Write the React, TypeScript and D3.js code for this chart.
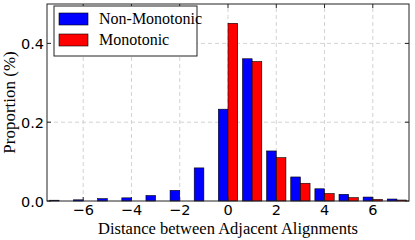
import * as d3 from 'd3';
import { useRef, useEffect } from 'react';

const distances = [-7, -6, -5, -4, -3, -2, -1, 0, 1, 2, 3, 4, 5, 6, 7];
const nonMonotonic = [0.002, 0.003, 0.006, 0.008, 0.014, 0.027, 0.084, 0.233, 0.361, 0.127, 0.061, 0.031, 0.017, 0.01, 0.005];
const monotonic = [0, 0, 0, 0, 0, 0, 0, 0.451, 0.354, 0.11, 0.045, 0.019, 0.0085, 0.004, 0.0025];
const xTicks = [-6, -4, -2, 0, 2, 4, 6];
const yTicks = [0.0, 0.2, 0.4];
const seriesNames = ['Non-Monotonic', 'Monotonic'];
const seriesColors = ['#0000ff', '#ff0000'];

export default function App() {
  const svgRef = useRef(null);

  useEffect(() => {
    const width = 415;
    const height = 240;
    const m = { left: 47, right: 6, top: 4, bottom: 39 };
    const barW = 0.4;

    const svg = d3.select(svgRef.current).attr('width', width).attr('height', height);
    svg.selectAll('*').remove();

    const x = d3.scaleLinear().domain([-7.5, 7.5]).range([m.left, width - m.right]);
    const y = d3.scaleLinear().domain([0, 0.5]).range([height - m.bottom, m.top]);
    const [x0, x1] = x.range();
    const [y0, y1] = y.range();

    // grid
    const grid = svg.append('g').attr('stroke', '#c8c8c8').attr('stroke-dasharray', '4,3').attr('stroke-width', 0.8);
    grid.selectAll('line.gx').data(xTicks).enter().append('line')
      .attr('x1', (d) => x(d)).attr('x2', (d) => x(d)).attr('y1', y0).attr('y2', y1);
    grid.selectAll('line.gy').data(yTicks.filter((d) => d > 0)).enter().append('line')
      .attr('x1', x0).attr('x2', x1).attr('y1', (d) => y(d)).attr('y2', (d) => y(d));

    // bars
    const bars = svg.append('g').attr('stroke', '#000').attr('stroke-width', 0.6);
    bars.selectAll('rect.nm').data(distances).enter().append('rect')
      .attr('x', (d) => x(d - barW)).attr('width', x(barW) - x(0))
      .attr('y', (d, i) => y(nonMonotonic[i])).attr('height', (d, i) => y(0) - y(nonMonotonic[i]))
      .attr('fill', seriesColors[0]);
    bars.selectAll('rect.mo').data(distances.filter((d, i) => monotonic[i] > 0)).enter().append('rect')
      .attr('x', (d) => x(d)).attr('width', x(barW) - x(0))
      .attr('y', (d) => y(monotonic[distances.indexOf(d)]))
      .attr('height', (d) => y(0) - y(monotonic[distances.indexOf(d)]))
      .attr('fill', seriesColors[1]);

    // frame
    svg.append('rect').attr('x', x0).attr('y', y1).attr('width', x1 - x0).attr('height', y0 - y1)
      .attr('fill', 'none').attr('stroke', '#222').attr('stroke-width', 1);

    // ticks (inside, both sides)
    const tk = svg.append('g').attr('stroke', '#222').attr('stroke-width', 1);
    xTicks.forEach((t) => {
      tk.append('line').attr('x1', x(t)).attr('x2', x(t)).attr('y1', y0).attr('y2', y0 - 4);
      tk.append('line').attr('x1', x(t)).attr('x2', x(t)).attr('y1', y1).attr('y2', y1 + 4);
    });
    yTicks.forEach((t) => {
      tk.append('line').attr('x1', x0).attr('x2', x0 + 4).attr('y1', y(t)).attr('y2', y(t));
      tk.append('line').attr('x1', x1).attr('x2', x1 - 4).attr('y1', y(t)).attr('y2', y(t));
    });

    const sans = "'DejaVu Sans', sans-serif";
    const serif = "'Liberation Serif', 'DejaVu Serif', serif";

    svg.append('g').selectAll('text').data(xTicks).enter().append('text')
      .attr('x', (d) => x(d)).attr('y', y0 + 13.5).attr('text-anchor', 'middle')
      .attr('font-family', sans).attr('font-size', 14.5)
      .text((d) => (d < 0 ? '\u2212' + Math.abs(d) : String(d)));
    svg.append('g').selectAll('text').data(yTicks).enter().append('text')
      .attr('x', x0 - 3).attr('y', (d) => y(d) + 5.5).attr('text-anchor', 'end')
      .attr('font-family', sans).attr('font-size', 14.5)
      .text((d) => d3.format('.1f')(d));

    svg.append('text').attr('x', (x0 + x1) / 2).attr('y', 234).attr('text-anchor', 'middle')
      .attr('font-family', serif).attr('font-size', 16.5).text('Distance between Adjacent Alignments');
    svg.append('text').attr('transform', `translate(15,${(y0 + y1) / 2}) rotate(-90)`).attr('text-anchor', 'middle')
      .attr('font-family', serif).attr('font-size', 17).text('Proportion (%)');

    // legend
    const lg = svg.append('g');
    lg.append('rect').attr('x', 54).attr('y', 6).attr('width', 143).attr('height', 50)
      .attr('fill', '#fff').attr('stroke', '#222').attr('stroke-width', 1);
    seriesNames.forEach((name, i) => {
      const cy = 19 + i * 21;
      lg.append('rect').attr('x', 59).attr('y', cy - 6).attr('width', 29).attr('height', 12)
        .attr('fill', seriesColors[i]).attr('stroke', '#000').attr('stroke-width', 0.6);
      lg.append('text').attr('x', 99).attr('y', cy + 5).attr('font-family', serif).attr('font-size', 16).text(name);
    });
  }, []);

  return (
    <div style={{ position: 'absolute', left: 0, top: 0 }}>
      <svg ref={svgRef}></svg>
    </div>
  );
}
